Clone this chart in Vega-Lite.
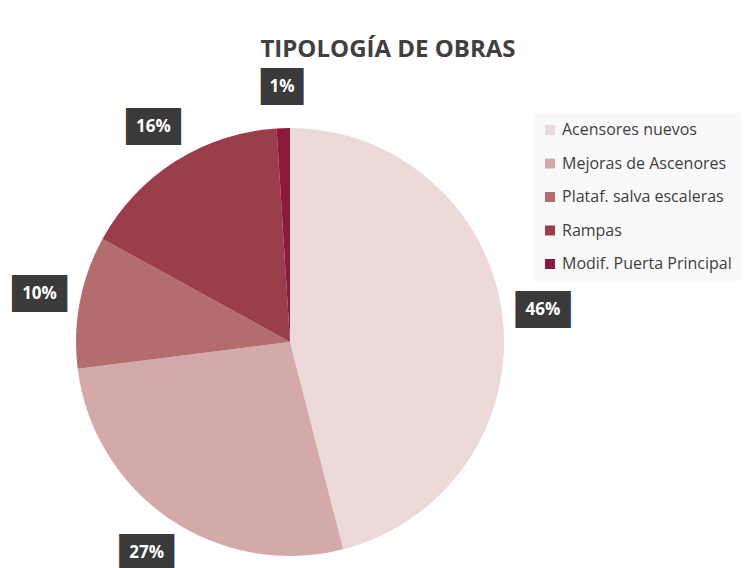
{
  "$schema": "https://vega.github.io/schema/vega-lite/v6.json",
  "width": 428,
  "height": 428,
  "autosize": {"type": "none"},
  "padding": {"left": 76, "top": 128, "right": 246, "bottom": 12},
  "background": "white",
  "title": {
    "text": "TIPOLOGÍA DE OBRAS",
    "font": "Open Sans",
    "fontSize": 24,
    "fontWeight": "bold",
    "color": "#404040",
    "anchor": "middle",
    "frame": "group",
    "dx": 98,
    "offset": 16
  },
  "data": {
    "values": [
      {"categoria": "Acensores nuevos", "valor": 46, "etiqueta": "46%", "orden": 1},
      {"categoria": "Mejoras de Ascenores", "valor": 27, "etiqueta": "27%", "orden": 2},
      {"categoria": "Plataf. salva escaleras", "valor": 10, "etiqueta": "10%", "orden": 3},
      {"categoria": "Rampas", "valor": 16, "etiqueta": "16%", "orden": 4},
      {"categoria": "Modif. Puerta Principal", "valor": 1, "etiqueta": "1%", "orden": 5}
    ]
  },
  "encoding": {
    "theta": {"field": "valor", "type": "quantitative", "stack": true},
    "order": {"field": "orden", "type": "quantitative"}
  },
  "layer": [
    {
      "mark": {"type": "arc", "outerRadius": 214, "stroke": null},
      "encoding": {
        "color": {
          "field": "categoria",
          "type": "nominal",
          "scale": {
            "domain": ["Acensores nuevos", "Mejoras de Ascenores", "Plataf. salva escaleras", "Rampas", "Modif. Puerta Principal"],
            "range": ["#ebdad8", "#d3aaa9", "#b46d6e", "#9b3e4c", "#8c1a3d"]
          },
          "legend": {
            "orient": "none",
            "legendX": 457,
            "legendY": -15,
            "title": null,
            "padding": 9,
            "fillColor": "#f9f9f9",
            "symbolType": "square",
            "symbolSize": 100,
            "symbolStrokeWidth": 0,
            "labelFont": "Open Sans",
            "labelFontSize": 16,
            "labelColor": "#404040",
            "labelOffset": 4,
            "rowPadding": 17.5,
            "labelLimit": 300
          }
        }
      }
    },
    {
      "mark": {
        "type": "text",
        "radius": 255,
        "font": "DejaVu Sans",
        "fontSize": 16,
        "color": "#3a3a3a",
        "stroke": "#3a3a3a",
        "strokeWidth": 18,
        "strokeJoin": "miter",
        "baseline": "middle",
        "align": "center"
      },
      "encoding": {
        "text": {"condition": {"test": "datum.valor < 5", "value": "██"}, "value": "███"},
        "detail": {"field": "categoria", "type": "nominal"}
      }
    },
    {
      "mark": {
        "type": "text",
        "radius": 255,
        "font": "Open Sans",
        "fontSize": 17,
        "fontWeight": "bold",
        "color": "white",
        "baseline": "middle",
        "align": "center"
      },
      "encoding": {
        "text": {"field": "etiqueta", "type": "nominal"},
        "detail": {"field": "categoria", "type": "nominal"}
      }
    }
  ]
}
